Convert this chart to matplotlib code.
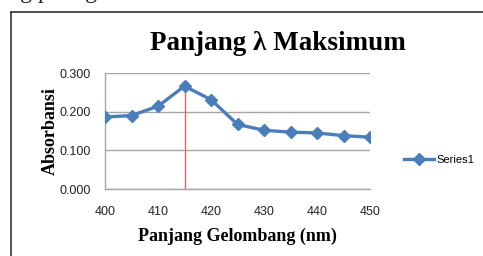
import matplotlib.pyplot as plt
from matplotlib.lines import Line2D

# data
panjang = [400, 405, 410, 415, 420, 425, 430, 435, 440, 445, 450]
absorbansi = [0.186, 0.190, 0.214, 0.266, 0.231, 0.167, 0.152, 0.147, 0.145, 0.138, 0.134]
lambda_maks = 415
xticks = [400, 410, 420, 430, 440, 450]
yticks = [0.0, 0.1, 0.2, 0.3]

serif = ['Liberation Serif', 'DejaVu Serif']
sans = ['Liberation Sans', 'DejaVu Sans']

fig = plt.figure(figsize=(4.83, 2.56), dpi=100)

# text of the page above, cut off
fig.text(-0.005, 1.03, 'ang paling besar.', family=serif, fontsize=17,
         ha='left', va='center', color='#222222')

# frame of the chart
fig.add_artist(Line2D([11/483, 11/483], [0, 1 - 12/256], color='#222222', lw=1.1))
fig.add_artist(Line2D([11/483, 1], [1 - 12/256, 1 - 12/256], color='#222222', lw=1.1))

ax = fig.add_axes([105/483, 1 - 189/256, 265/483, 116/256])
ax.plot(panjang, absorbansi, color='#4a7ebb', lw=2.4, marker='D', ms=6.5,
        label='Series1', zorder=3)
idx = panjang.index(lambda_maks)
ax.plot([lambda_maks, lambda_maks], [0, absorbansi[idx]], color='#e06666', lw=1, zorder=2)

ax.set_xlim(400, 450)
ax.set_ylim(0, 0.3)
ax.set_xticks(xticks)
ax.set_yticks(yticks)
ax.set_yticklabels(['%.3f' % v for v in yticks])
ax.tick_params(axis='y', length=0, labelsize=9, colors='#222222', pad=10)
ax.tick_params(axis='x', length=0, labelsize=9, colors='#222222', pad=12)
for lab in ax.get_xticklabels() + ax.get_yticklabels():
    lab.set_family(sans)
ax.grid(axis='y', color='#a6a6a6', lw=1)
ax.set_axisbelow(True)
for s in ['top', 'right']:
    ax.spines[s].set_visible(False)
for s in ['left', 'bottom']:
    ax.spines[s].set_color('#a6a6a6')
    ax.spines[s].set_linewidth(1)

fig.text(278/483, 1 - 43/256, 'Panjang λ Maksimum', family=serif, fontsize=19.5,
         fontweight='bold', ha='center', va='center')
ax.set_xlabel('Panjang Gelombang (nm)', family=serif, fontsize=13, fontweight='bold', labelpad=7)
ax.set_ylabel('Absorbansi', family=serif, fontsize=13, fontweight='bold', labelpad=1)

leg = ax.legend(loc='center left', bbox_to_anchor=(1.13, 0.25), frameon=False,
                prop={'family': sans, 'size': 8}, handlelength=2.7, handletextpad=0.2,
                borderpad=0, borderaxespad=0)

fig.savefig('out.png', dpi=100)
